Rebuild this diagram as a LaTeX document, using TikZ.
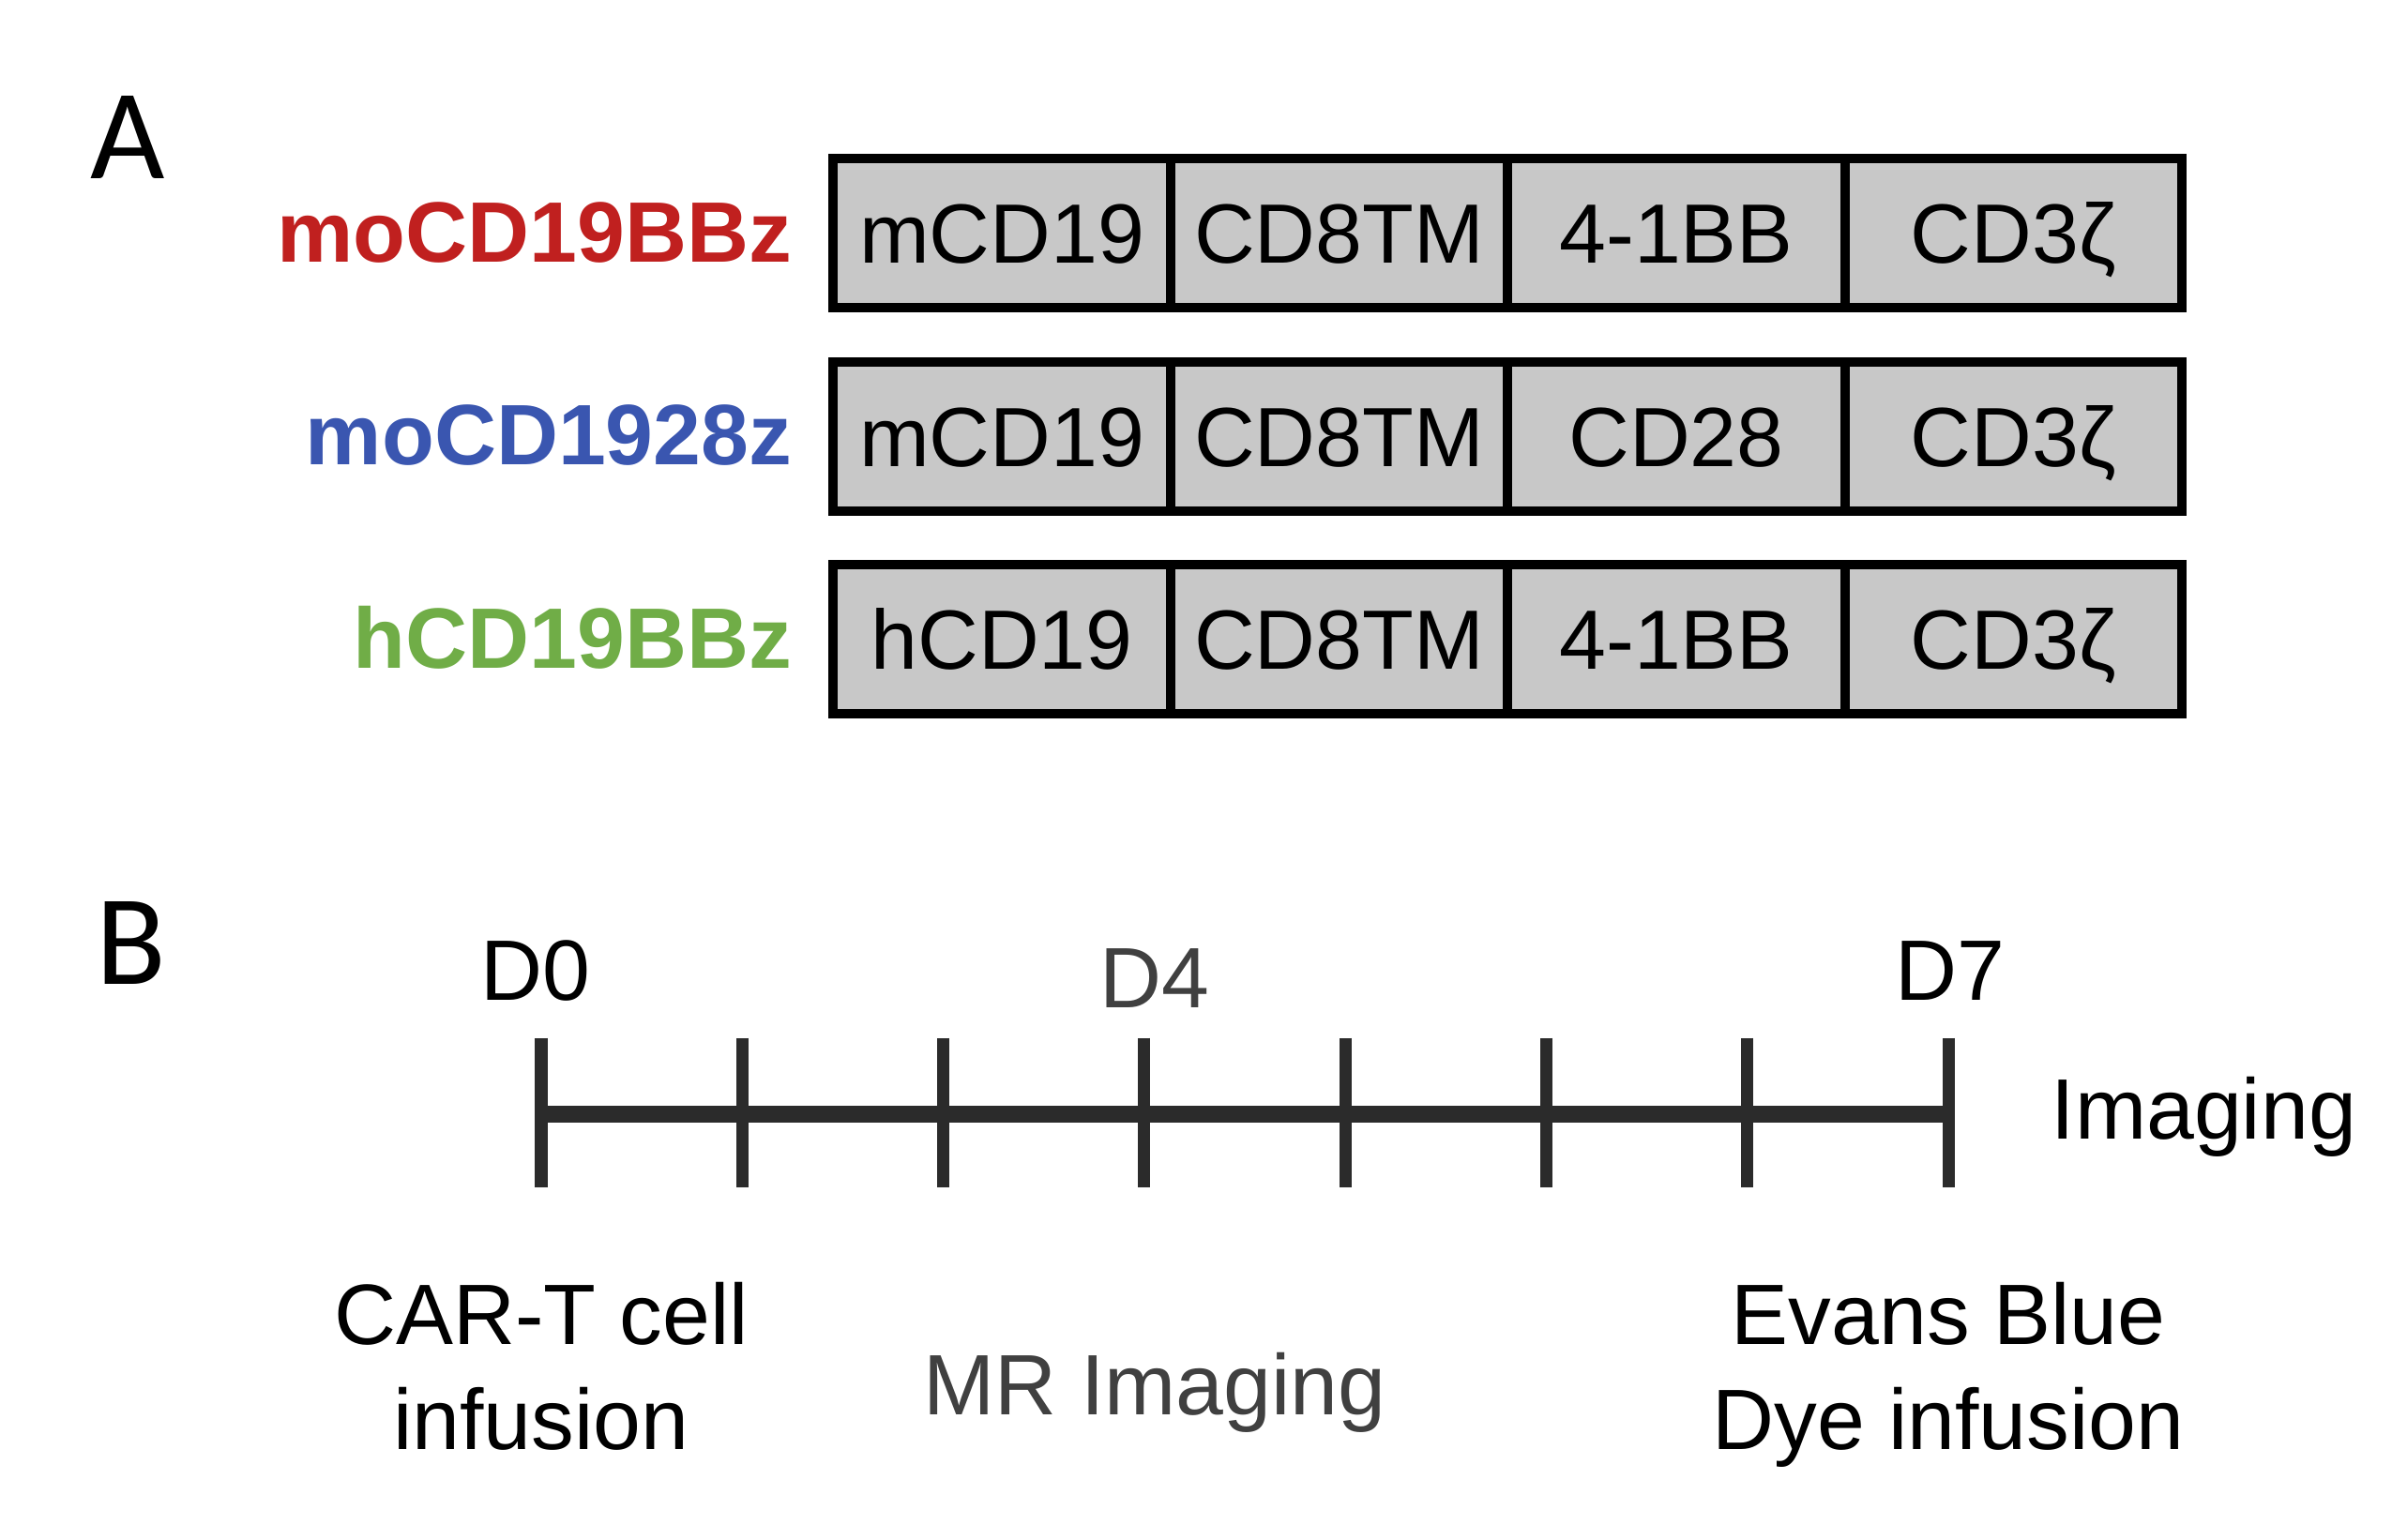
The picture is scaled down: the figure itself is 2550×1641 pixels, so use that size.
\documentclass[tikz,border=0pt]{standalone}
\usepackage{fontspec}
\setmainfont{Liberation Sans}
\newfontfamily\calfont{Carlito}
\definecolor{cellgray}{HTML}{C8C8C8}
\definecolor{labred}{HTML}{C0201F}
\definecolor{labblue}{HTML}{3A56B0}
\definecolor{labgreen}{HTML}{70AD47}
\definecolor{tlgray}{HTML}{2B2B2B}
\definecolor{txtgray}{HTML}{404040}
\begin{document}
\begin{tikzpicture}[x=0.01cm,y=-0.01cm,
  cell/.style={draw=black, fill=cellgray, line width=2.85pt, minimum width=3.594cm,
    minimum height=1.585cm, inner sep=0pt, outer sep=0pt, text height=18.3pt, text depth=0pt,
    font=\fontsize{25.5}{30}\selectfont},
  rowlabel/.style={anchor=base east, inner sep=0pt, font=\fontsize{26}{30}\selectfont\bfseries},
  panel/.style={anchor=base west, inner sep=0pt, font=\calfont\fontsize{39}{44}\selectfont},
  daylabel/.style={anchor=base, inner sep=0pt, font=\fontsize{26}{30}\selectfont},
  note/.style={align=center, inner sep=0pt, font=\fontsize{26}{31.6}\selectfont},
  bar/.style={draw=tlgray, line width=5.1pt},
  tick/.style={draw=tlgray, line width=3.7pt}]
\useasboundingbox (0,0) rectangle (2550,1641);

% Panel letters
\node[panel] (pA) at (96,190) {A};
\node[panel] (pB) at (102,1049) {B};

% Row labels
\node[rowlabel, text=labred] (l1) at (845,279.4) {moCD19BBz};
\node[rowlabel, text=labblue] (l2) at (845,495) {moCD1928z};
\node[rowlabel, text=labgreen] (l3) at (845,712) {hCD19BBz};

% Row 1
\node[cell] (r1a) at (1068.2,248.75) {mCD19};
\node[cell] (r1b) at (1427.6,248.75) {CD8TM};
\node[cell] (r1c) at (1787,248.75) {4-1BB};
\node[cell] (r1d) at (2146.4,248.75) {CD3ζ};
% Row 2
\node[cell] (r2a) at (1068.2,465.5) {mCD19};
\node[cell] (r2b) at (1427.6,465.5) {CD8TM};
\node[cell] (r2c) at (1787,465.5) {CD28};
\node[cell] (r2d) at (2146.4,465.5) {CD3ζ};
% Row 3
\node[cell] (r3a) at (1068.2,681.5) {hCD19};
\node[cell] (r3b) at (1427.6,681.5) {CD8TM};
\node[cell] (r3c) at (1787,681.5) {4-1BB};
\node[cell] (r3d) at (2146.4,681.5) {CD3ζ};

% Timeline
\foreach \i in {0,...,7}{
  \coordinate (t\i) at ({577+214.3*\i},1188);
  \coordinate (tt\i) at ({577+214.3*\i},1106.5);
  \coordinate (tb\i) at ({577+214.3*\i},1266);
}
\draw[bar] (t0) -- (t7);
\foreach \i in {0,...,7}{
  \draw[tick] (tt\i) -- (tb\i);
}

\node[daylabel] (d0) at (570.5,1066) {D0};
\node[daylabel, text=txtgray] (d4) at (1231,1074.5) {D4};
\node[daylabel] (d7) at (2078.5,1066) {D7};
\node[anchor=base west, inner sep=0pt, font=\fontsize{26}{30}\selectfont] (img) at (2186,1214) {Imaging};

\node[note, anchor=base] (car) at (577,1545) {CAR-T cell\\infusion};
\node[note, anchor=base, text=txtgray] (mr) at (1231,1508.6) {MR Imaging};
\node[note, anchor=base] (eb) at (2077,1545) {Evans Blue\\Dye infusion};
\end{tikzpicture}
\end{document}
